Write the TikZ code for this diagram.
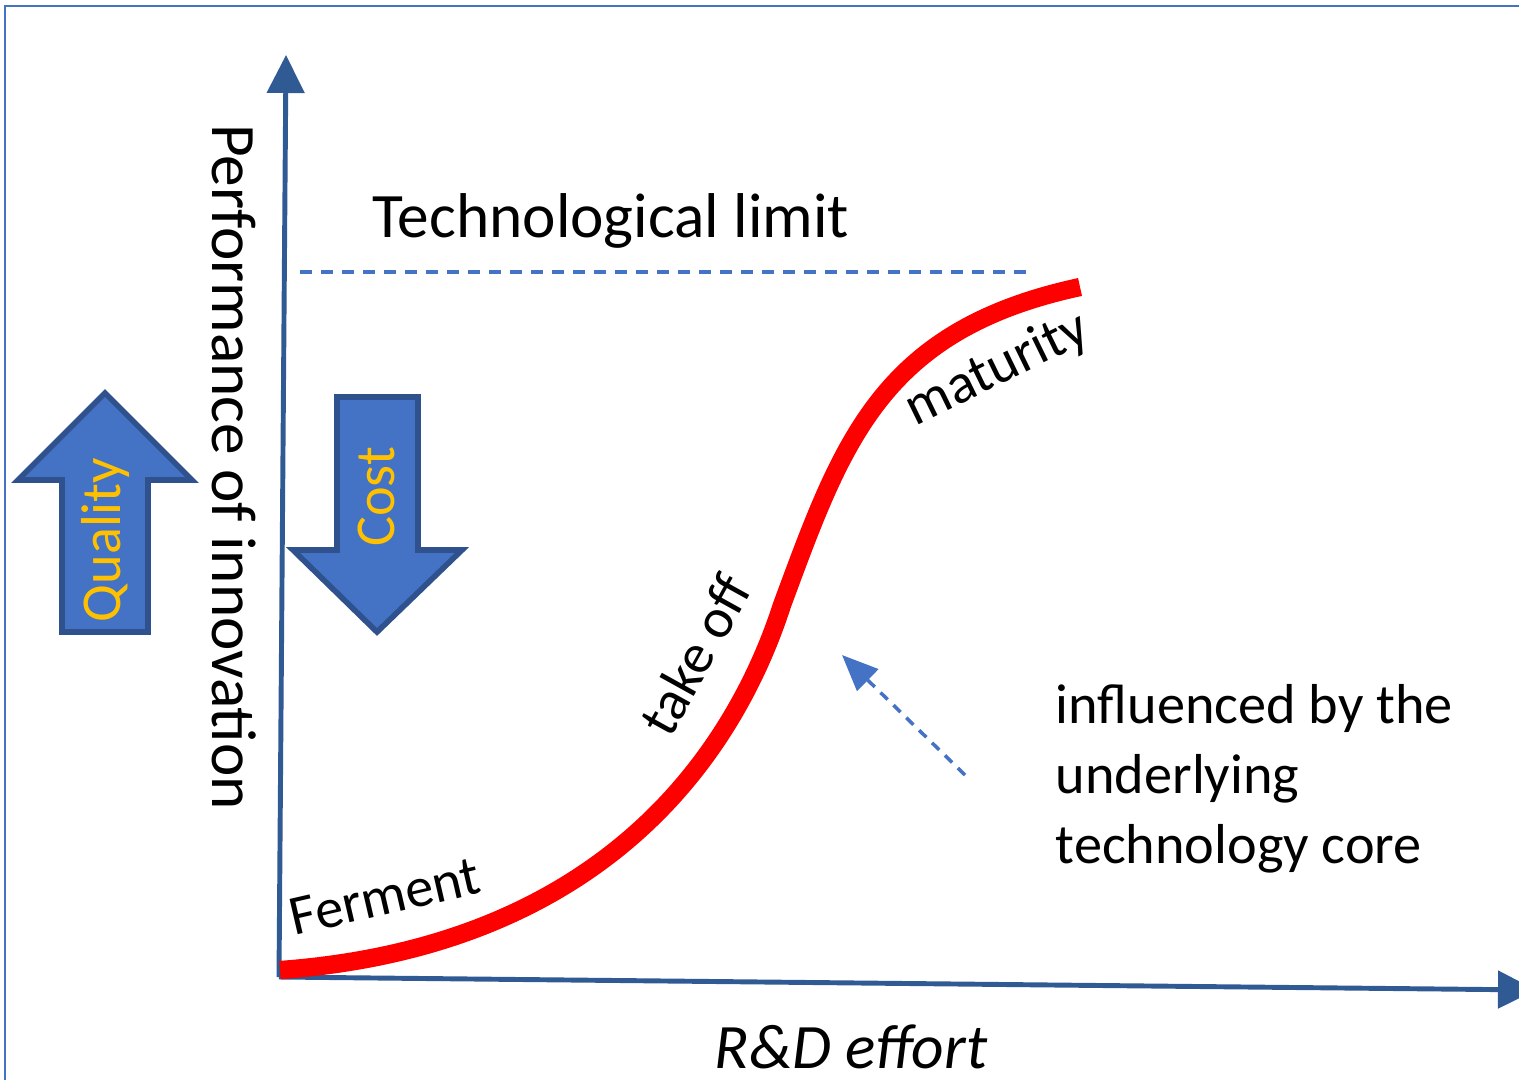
\documentclass[tikz,border=0pt]{standalone}
\usepackage{fontspec}
\setmainfont{Carlito}
\usepackage{xcolor}
\usetikzlibrary{positioning,arrows.meta}

\definecolor{axisblue}{HTML}{2F5A94}
\definecolor{fillblue}{HTML}{4472C4}
\definecolor{edgeblue}{HTML}{2F528F}
\definecolor{gold}{HTML}{FFC000}

\tikzset{
  axis/.style={draw=axisblue, line width=1.4pt, -{Triangle[length=0.38cm,width=0.37cm]}},
  blockarrow/.style={fill=fillblue, draw=edgeblue, line width=1.6pt, line join=miter},
  blocklabel/.style={text=gold, font=\fontsize{16}{18}\selectfont, inner sep=0pt},
  curvelabel/.style={font=\fontsize{16}{18}\selectfont, inner sep=0pt, anchor=base},
  bigtext/.style={font=\fontsize{18}{20}\selectfont, inner sep=0pt}
}

\begin{document}
\begin{tikzpicture}[x=0.01cm, y=-0.01cm]
  \useasboundingbox (0,0) rectangle (1519,1079);
  \clip (0,0) rectangle (1519,1079);

  % frame
  \draw[fillblue, line width=0.6pt] (5,6) rectangle (1540,1100);

  % axes
  \coordinate (origin) at (279,977);
  \coordinate (ytip) at (286,55);
  \coordinate (xtip) at (1536,990);
  \draw[axis] (origin) -- (ytip);
  \draw[axis] (origin) -- (xtip);

  % technological limit
  \coordinate (limitstart) at (300,272);
  \coordinate (limitend) at (1030,272);
  \draw[fillblue, line width=0.9pt, dash pattern=on 0.12cm off 0.09cm] (limitstart) -- (limitend);
  \node[bigtext, anchor=base west] (limit) at (372,237) {Technological limit};

  % s-curve
  \draw[red, line width=5.2pt] (280,970) .. controls (620,945) and (740,735) .. (782,605)
        .. controls (842,443) and (880,330) .. (1080,287);
  \node[curvelabel, rotate=13] (ferment) at (389,914) {Ferment};
  \node[curvelabel, rotate=61] (takeoff) at (712,664) {take off};
  \node[curvelabel, rotate=26] (maturity) at (1004,383) {maturity};

  % axis labels
  \node[bigtext, rotate=-90] (perf) at (234,467) {Performance of innovation};
  \node[bigtext, anchor=base] (effort) at (851,1068) {\itshape R\&D effort};

  % quality up, cost down
  \draw[blockarrow] (62,632) -- (62,480) -- (18,480) -- (105,393) -- (192,480)
        -- (148,480) -- (148,632) -- cycle;
  \node[blocklabel, rotate=90] (quality) at (105,540) {Quality};
  \draw[blockarrow] (337,397) -- (418,397) -- (418,550) -- (462,550) -- (377,632)
        -- (293,550) -- (337,550) -- cycle;
  \node[blocklabel, rotate=90] (cost) at (376,497) {Cost};

  % technology core
  \node[font=\fontsize{16}{19.9}\selectfont, inner sep=0pt, align=left, anchor=base west]
        (core) at (1055,863) {influenced by the\\underlying\\technology core};
  \coordinate (hintfrom) at (965,775);
  \coordinate (hinttip) at (842,655);
  \draw[fillblue, line width=1pt, dash pattern=on 0.1cm off 0.08cm,
        -{Triangle[length=0.36cm,width=0.3cm]}] (hintfrom) -- (hinttip);
\end{tikzpicture}
\end{document}
